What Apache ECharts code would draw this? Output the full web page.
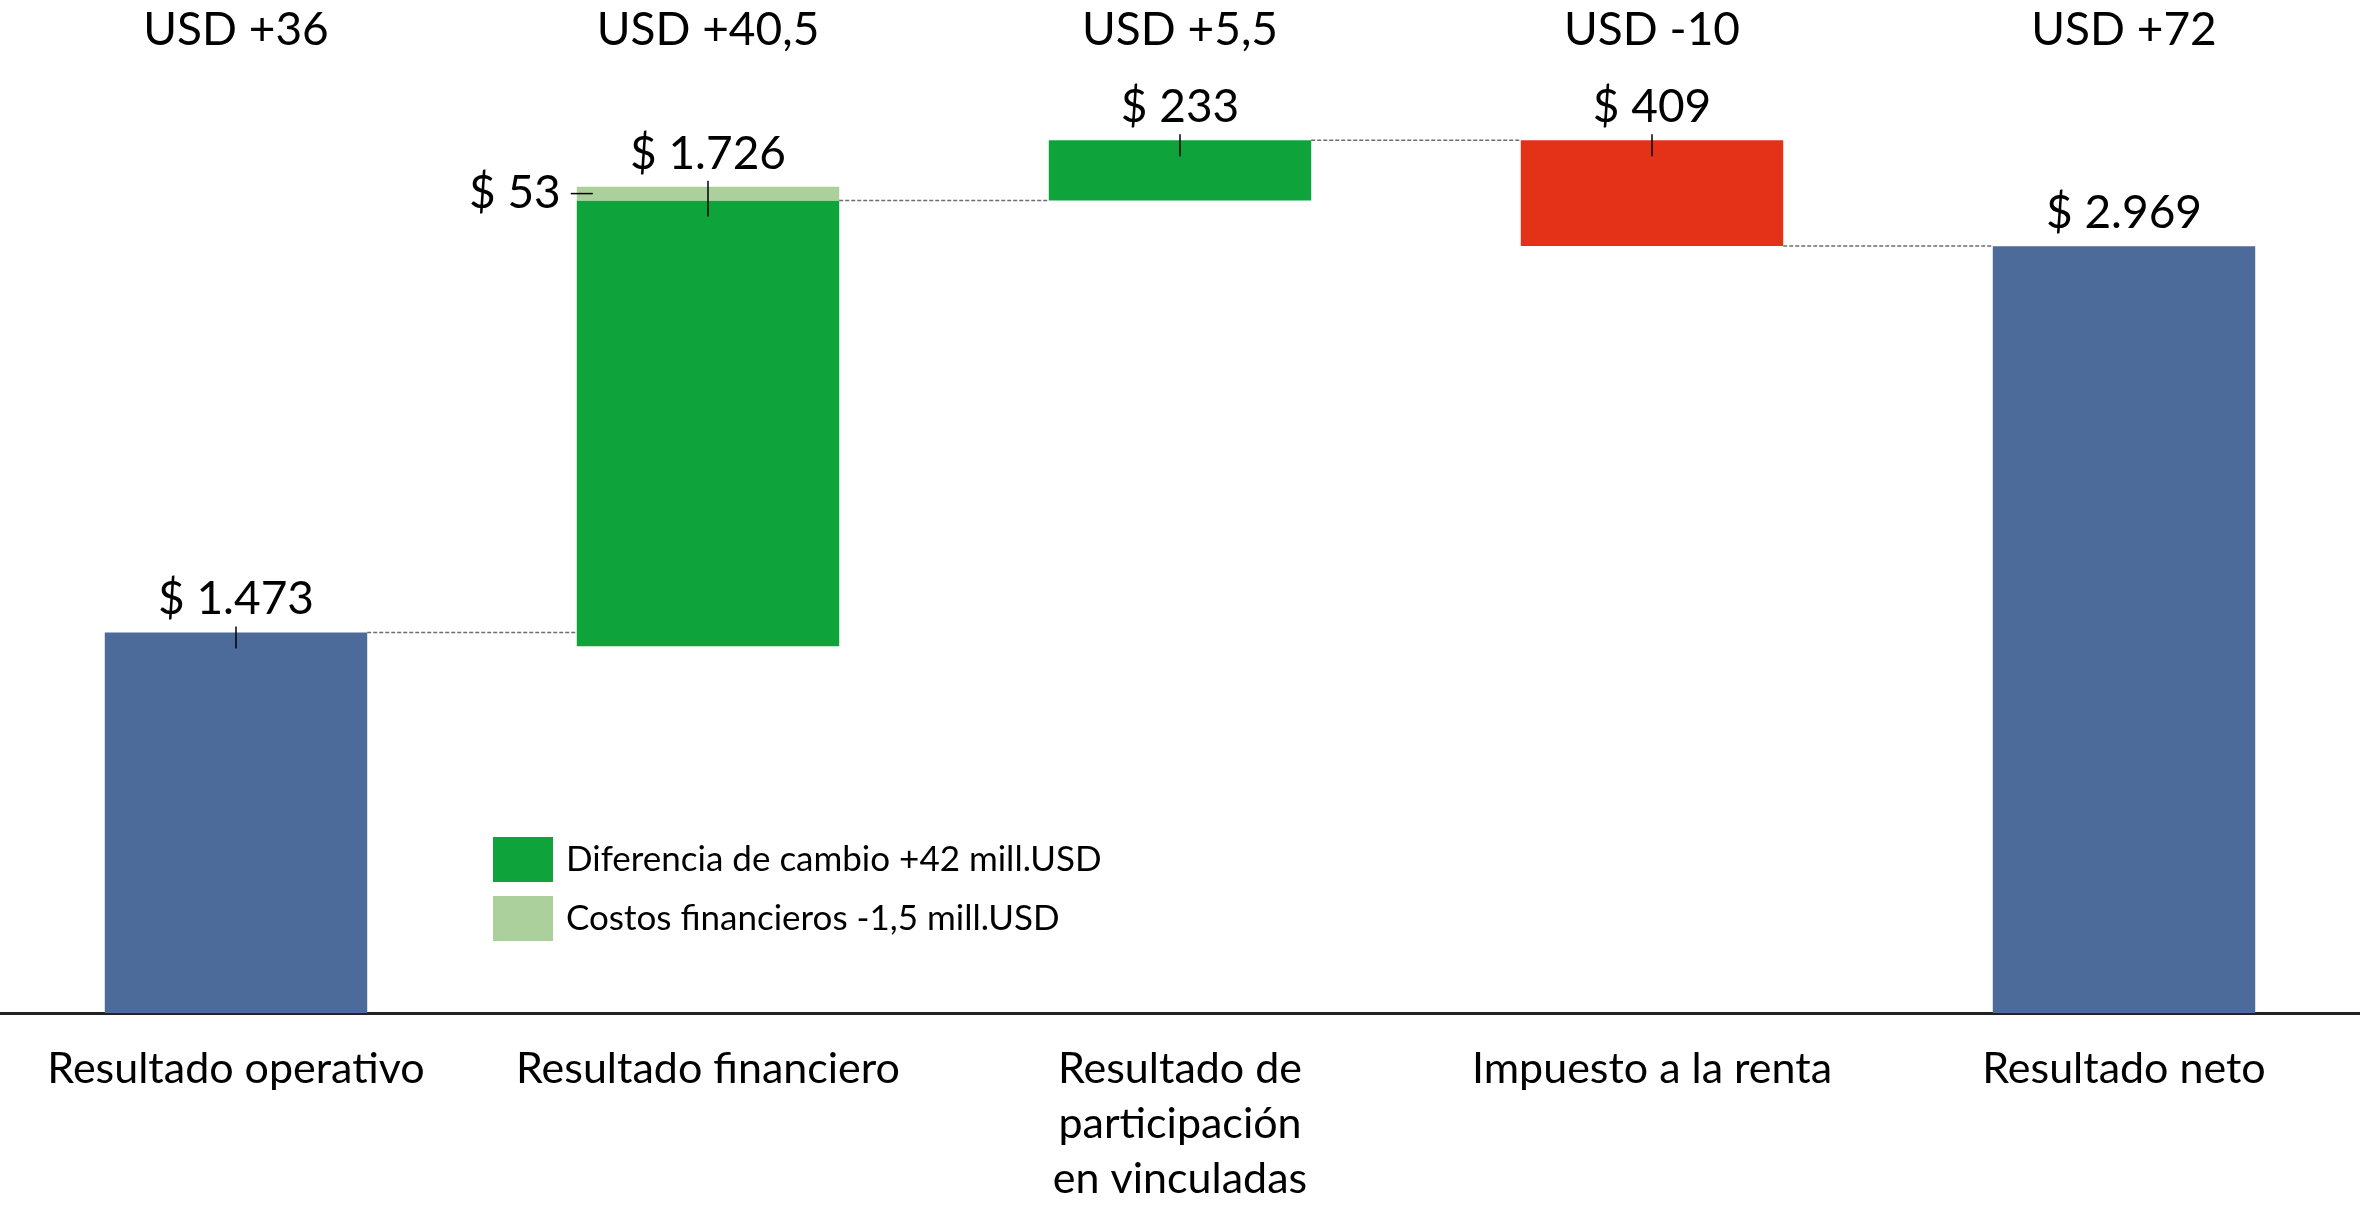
<!DOCTYPE html>
<html>
<head>
<meta charset="utf-8">
<script src="https://cdn.jsdelivr.net/npm/echarts@6/dist/echarts.min.js"></script>
<style>
  html, body { margin: 0; padding: 0; background: #fff; }
  #chart { width: 2360px; height: 1207px; }
</style>
</head>
<body>
<div id="chart"></div>
<script>
// categories and the USD headline above each one
const categories = [
    'Resultado operativo',
    'Resultado financiero',
    'Resultado de\nparticipación\nen vinculadas',
    'Impuesto a la renta',
    'Resultado neto'
];
const usdLabels = ['USD +36', 'USD +40,5', 'USD +5,5', 'USD -10', 'USD +72'];

// waterfall pieces (invisible base + coloured segments)
const bases      = [0, 1420, 3146, 2970, 0];
const resultado  = [1473, '-', '-', '-', 2969];
const diferencia = ['-', 1726, 233, '-', '-'];
const costos     = ['-', 53, '-', '-', '-'];
const impuesto   = ['-', '-', '-', 409, '-'];

// level each bar ends at, used for the dashed connectors
const levels = [1473, 3146, 3379, 2970];
// value printed above each bar
const shownValues = [1473, 1726, 233, 409, 2969];

const FONT = 'Lato, "Open Sans", sans-serif';
const BAR_W = 0.556;

var fmt = function(v) {
    return '$ ' + String(v).replace(/\B(?=(\d{3})+(?!\d))/g, '.');
};

var num = function(v) {
    return v === '-' ? 0 : v;
};

var renderMarks = function(params, api) {
    let i = api.value(0);
    let band = api.size([1, 0])[0];
    let half = band * BAR_W / 2;
    let x = api.coord([i, 0])[0];
    let stackTop = bases[i] + num(resultado[i]) + num(diferencia[i]) + num(costos[i]) + num(impuesto[i]);
    let segTop = stackTop - num(costos[i]);
    let yTop = api.coord([i, stackTop])[1];
    let ySeg = api.coord([i, segTop])[1];
    let children = [];

    // connector to the next bar
    if (i < levels.length) {
        let yl = api.coord([i, levels[i]])[1];
        let xNext = api.coord([i + 1, 0])[0];
        children.push({
            type: 'line',
            shape: { x1: x + half, y1: yl, x2: xNext - half, y2: yl },
            style: { stroke: '#6e6e6e', lineWidth: 1.5, lineDash: [4, 2] }
        });
    }
    // small leader tick
    if (i < 4) {
        children.push({
            type: 'line',
            shape: { x1: x, y1: yTop - 6, x2: x, y2: ySeg + 16 },
            style: { stroke: '#000', lineWidth: 1.5 }
        });
    }
    children.push({
        type: 'text',
        style: {
            text: fmt(shownValues[i]),
            x: x, y: yTop - 33,
            align: 'center', verticalAlign: 'middle',
            fontSize: 46, fontFamily: FONT, fill: '#000'
        }
    });
    // costos label at the left of the light strip
    if (costos[i] !== '-') {
        let yMid = (yTop + ySeg) / 2;
        children.push({
            type: 'line',
            shape: { x1: x - half - 6, y1: yMid, x2: x - half + 16, y2: yMid },
            style: { stroke: '#000', lineWidth: 1.5 }
        });
        children.push({
            type: 'text',
            style: {
                text: fmt(costos[i]),
                x: x - half - 16, y: yMid,
                align: 'right', verticalAlign: 'middle',
                fontSize: 46, fontFamily: FONT, fill: '#000'
            }
        });
    }
    return { type: 'group', children: children };
};

var chart = echarts.init(document.getElementById('chart'));

var barBase = {
    type: 'bar',
    stack: 'w',
    barWidth: (BAR_W * 100) + '%',
    silent: true
};

var option = {
    animation: false,
    backgroundColor: '#fff',
    grid: { left: 0, right: 0, top: 109, bottom: 183, containLabel: false },
    legend: {
        data: ['Diferencia de cambio +42 mill.USD', 'Costos financieros -1,5 mill.USD'],
        orient: 'vertical',
        left: 493,
        top: 837,
        padding: 0,
        itemWidth: 60,
        itemHeight: 45,
        itemGap: 14,
        icon: 'rect',
        selectedMode: false,
        textStyle: { fontSize: 35, fontFamily: FONT, color: '#000', padding: [0, 0, 0, 8] }
    },
    xAxis: [{
        type: 'category',
        data: categories,
        axisLine: { lineStyle: { color: '#222', width: 3 } },
        axisTick: { show: false },
        axisLabel: {
            fontSize: 43, fontFamily: FONT, color: '#000',
            lineHeight: 55, margin: 29, interval: 0
        }
    }, {
        type: 'category',
        position: 'top',
        data: usdLabels,
        axisLine: { show: false },
        axisTick: { show: false },
        axisLabel: {
            fontSize: 46, fontFamily: FONT, color: '#000',
            lineHeight: 58, margin: 50, interval: 0
        }
    }],
    yAxis: {
        type: 'value', min: 0, max: 3500, show: false,
        splitLine: { show: false }
    },
    series: [
        Object.assign({}, barBase, {
            name: 'base', data: bases,
            itemStyle: { color: 'transparent' }
        }),
        Object.assign({}, barBase, {
            name: 'Resultado', data: resultado,
            itemStyle: { color: '#4C6B9A' }
        }),
        Object.assign({}, barBase, {
            name: 'Diferencia de cambio +42 mill.USD', data: diferencia,
            itemStyle: { color: '#0FA33C' }
        }),
        Object.assign({}, barBase, {
            name: 'Costos financieros -1,5 mill.USD', data: costos,
            itemStyle: { color: '#ABD09C' }
        }),
        Object.assign({}, barBase, {
            name: 'Impuesto a la renta', data: impuesto,
            itemStyle: { color: '#E43218' }
        }),
        {
            type: 'custom',
            name: 'marcas',
            silent: true,
            z: 5,
            data: categories.map((c, i) => [i]),
            encode: { x: 0 },
            renderItem: renderMarks
        }
    ]
};

chart.setOption(option);
</script>
</body>
</html>
